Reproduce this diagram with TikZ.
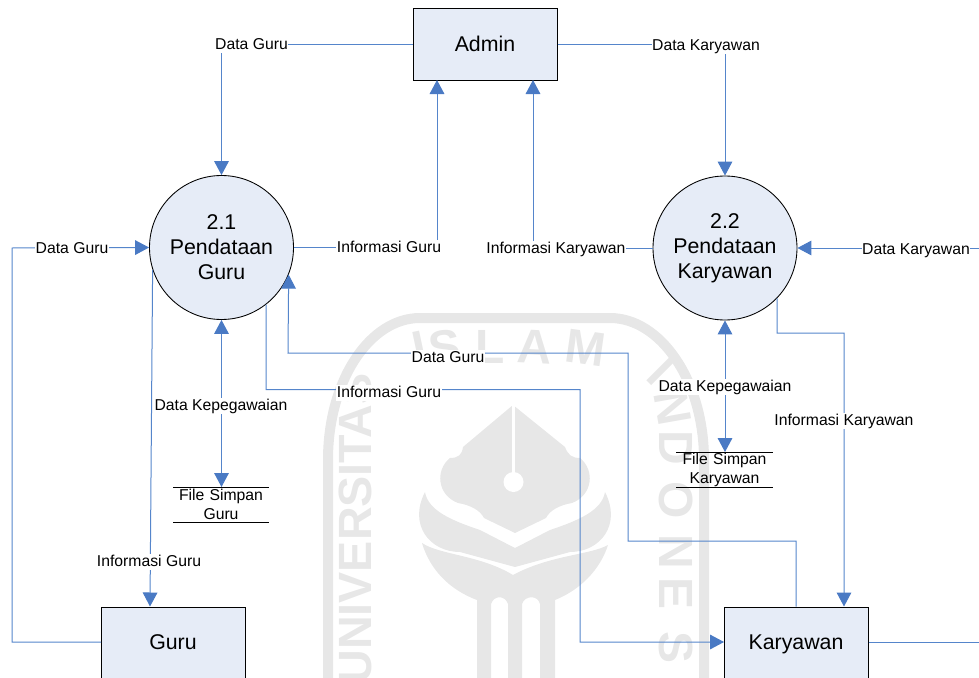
\documentclass[tikz,border=0pt]{standalone}
\usepackage{fontspec}
\setmainfont{Liberation Sans}
\usetikzlibrary{arrows.meta}
\definecolor{fillb}{HTML}{E6ECF7}
\definecolor{flow}{HTML}{5585CB}
\definecolor{tipc}{HTML}{4A7AC4}
\definecolor{wm}{HTML}{E7E7E7}
\tikzset{
 x=0.75pt,y=-0.75pt,
 entity/.style={draw=black,line width=0.75pt,fill=fillb,minimum width=108pt,minimum height=54pt,inner sep=0pt,font=\fontsize{16}{19}\selectfont},
 proc/.style={draw=black,line width=0.65pt,fill=fillb,circle,minimum size=108pt,inner sep=0pt,align=center,font=\fontsize{16}{18.75}\selectfont},
 flowline/.style={draw=flow,line width=0.75pt},
 arr/.style={flowline,-{Triangle[length=10.5pt,width=11pt,fill=tipc,color=tipc]}},
 biarr/.style={flowline,{Triangle[length=10.5pt,width=11pt,fill=tipc,color=tipc]}-{Triangle[length=10.5pt,width=11pt,fill=tipc,color=tipc]}},
 lab/.style={fill=white,inner sep=0.4pt,text height=8.6pt,text depth=2.6pt,yshift=-0.9pt,font=\fontsize{11.8}{14}\selectfont},
 store/.style={inner sep=0pt,align=center,text width=72pt,font=\fontsize{11.8}{14.25}\selectfont},
 wl/.style={text=wm,inner sep=0pt,font=\bfseries\fontsize{36}{36}\selectfont},
}
\begin{document}
\begin{tikzpicture}
\useasboundingbox (0,0) rectangle (979,678);
% watermark
\draw[wm,line width=7.5pt] (328,690) -- (328,460) .. controls (328,380) and (370,318) .. (420,318) -- (610,318) .. controls (660,318) and (704,380) .. (704,460) -- (704,690);
\node[wl,rotate=12] (wi) at (420,348) {I};
\node[wl,rotate=6] (ws) at (445,347) {S};
\node[wl] (wl1) at (490,347) {L};
\node[wl,rotate=-3] (wa) at (535,347) {A};
\node[wl,rotate=-8] (wm1) at (586,348) {M};
\node[wl,rotate=90,anchor=east,font=\bfseries\fontsize{35}{35}\selectfont] (wu) at (355,373) {UNIVERSITAS};
\node[wl,rotate=-45] (wi2) at (661,372) {I};
\node[wl,rotate=-80] (wn) at (673,408) {N};
\node[wl,rotate=-90] (wd) at (676,448) {D};
\node[wl,rotate=-90] (wo) at (676,500) {O};
\node[wl,rotate=-90] (wn2) at (676,552) {N};
\node[wl,rotate=-90] (we) at (676,594) {E};
\node[wl,rotate=-90] (ws2) at (676,648) {S};
% emblem
\fill[wm] (513,405) -- (463,447) .. controls (462,455) and (458,458) .. (450,458) .. controls (435,470) and (437,495) .. (458,503) .. controls (470,505) and (480,510) .. (484,518) -- (515,533) -- (546,518) .. controls (550,510) and (560,505) .. (572,503) .. controls (593,495) and (595,470) .. (580,458) .. controls (572,458) and (568,455) .. (565,447) -- cycle;
\draw[white,line width=1.6pt] (513.5,404) -- (513.5,475);
\fill[white] (513.5,482) circle (10);
\fill[wm] (425,492) .. controls (428,510) and (450,520) .. (480,530) -- (515,548) -- (550,530) .. controls (580,520) and (602,510) .. (605,492) .. controls (622,525) and (600,552) .. (570,552) -- (515,567) -- (460,552) .. controls (430,552) and (408,525) .. (425,492) -- cycle;
\fill[wm] (422,543) .. controls (440,555) and (480,555) .. (513,575) .. controls (550,555) and (590,555) .. (608,545) .. controls (600,570) and (580,590) .. (555,600) -- (555,690) -- (540,690) -- (540,604) .. controls (538,595) and (525,595) .. (522,604) -- (522,690) -- (508,690) -- (508,604) .. controls (505,595) and (494,595) .. (491,604) -- (491,690) -- (477,690) -- (477,600) .. controls (450,590) and (430,570) .. (422,543) -- cycle;
% nodes
\node[entity] (admin) at (485,44) {Admin};
\node[entity,minimum height=80pt,anchor=north] (guru) at (173,606.5) {};
\node[entity,minimum height=80pt,anchor=north] (kary) at (796,606.5) {};
\node[font=\fontsize{16}{19}\selectfont,text height=11.5pt,text depth=3.5pt,inner sep=0pt] (gurut) at (173,644) {Guru};
\node[font=\fontsize{16}{19}\selectfont,text height=11.5pt,text depth=3.5pt,inner sep=0pt] (karyt) at (796,644) {Karyawan};
\node[proc] (p1) at (221.5,247.5) {2.1\\Pendataan\\Guru};
\node[proc] (p2) at (725,248) {2.2\\Pendataan\\Karyawan};
\node[store] (s1) at (221,504) {File Simpan\\Guru};
\node[store] (s2) at (724.5,469.5) {File Simpan\\Karyawan};
% free ends
\coordinate (s1t) at (221.5,487);
\coordinate (s2t) at (725,452);
\coordinate (a1) at (437,80);
\coordinate (a2) at (533,80);
\coordinate (rt) at (979,248);
\coordinate (rb) at (979,642);
\coordinate (gw) at (101,642);
\coordinate (gn) at (150,606.5);
\coordinate (kw) at (724,642);
\coordinate (kn) at (844,606.5);
% store lines
\draw[black,line width=0.6pt] (173,487) -- (269,487) (173,522) -- (269,522);
\draw[black,line width=0.6pt] (676,452) -- (773,452) (676,487.5) -- (773,487.5);
% connectors
\draw[arr] (admin.west) -| (p1.north);
\draw[arr] (admin.east) -| (p2.north);
\draw[arr] (p1.east) -| (a1);
\draw[arr] (p2.west) -| (a2);
\draw[arr] (rt) -- (p2.east);
\draw[arr] (gw) -- (12,642) -- (12,248) -- (p1.west);
\draw[arr] (p1.198) -- (gn);
\draw[arr] (kary.north) -- (796,541) -- (628,541) -- (628,353) -- (288,353) -- (p1.-22.5);
\draw[arr] (p1.-52) -- (266,389.5) -- (580,389.5) -- (580,642) -- (kw);
\draw[arr] (p2.-44) -- (777,333) -- (844,333) -- (kn);
\draw[biarr] (p1.south) -- (s1t);
\draw[biarr] (p2.south) -- (s2t);
\draw[flowline] (kary.east |- rb) -- (rb);
% labels
\node[lab] (l1) at (251.5,44) {Data Guru};
\node[lab] (l2) at (706,45) {Data Karyawan};
\node[lab] (l3) at (389,247) {Informasi Guru};
\node[lab] (l4) at (556,248) {Informasi Karyawan};
\node[lab] (l5) at (916,249) {Data Karyawan};
\node[lab] (l6) at (72,248) {Data Guru};
\node[lab] (l7) at (149,561) {Informasi Guru};
\node[lab] (l8) at (448,357) {Data Guru};
\node[lab] (l9) at (389,392) {Informasi Guru};
\node[lab] (l10) at (844,420) {Informasi Karyawan};
\node[lab] (l11) at (221,405) {Data Kepegawaian};
\node[lab] (l12) at (725,386) {Data Kepegawaian};
\end{tikzpicture}
\end{document}
